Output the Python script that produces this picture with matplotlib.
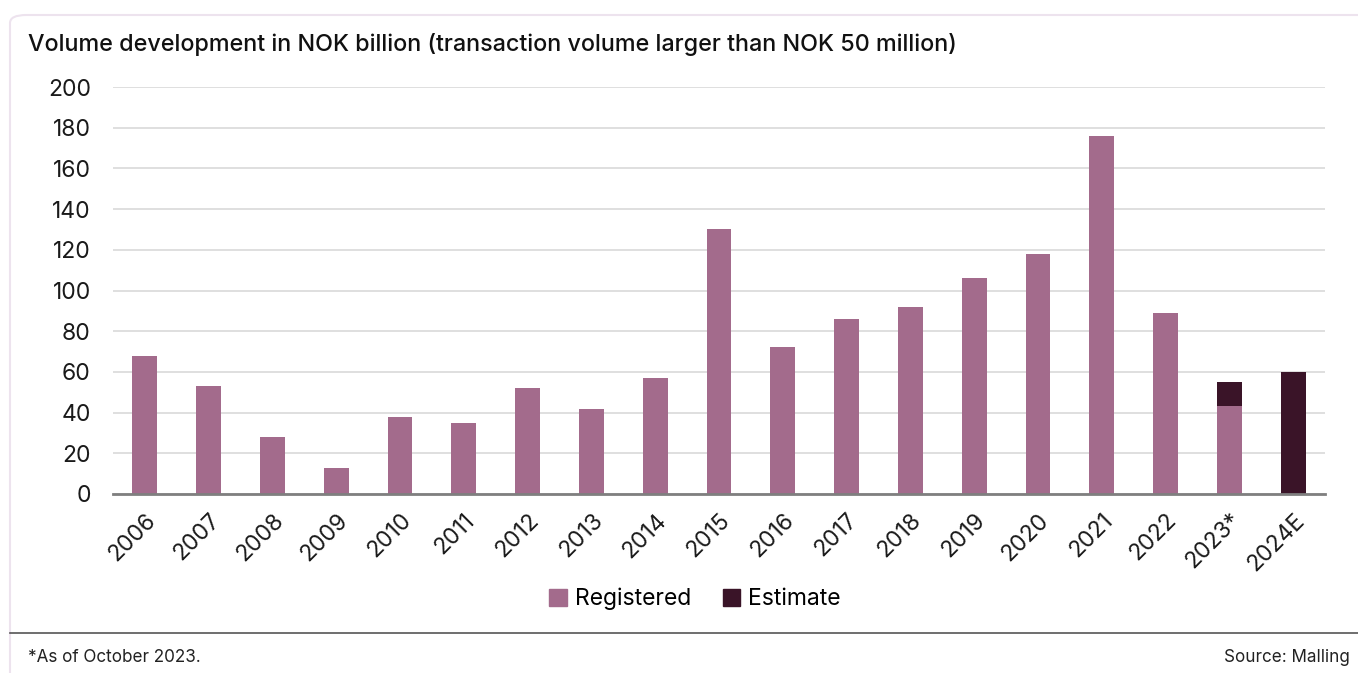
import matplotlib.pyplot as plt
from matplotlib.patches import FancyBboxPatch, Patch
from matplotlib.lines import Line2D
import numpy as np

years = ['2006', '2007', '2008', '2009', '2010', '2011', '2012', '2013', '2014', '2015',
         '2016', '2017', '2018', '2019', '2020', '2021', '2022', '2023*', '2024E']
registered = [68, 53, 28, 13, 38, 35, 52, 42, 57, 130, 72, 86, 92, 106, 118, 176, 89, 43, 0]
estimate = [0, 0, 0, 0, 0, 0, 0, 0, 0, 0, 0, 0, 0, 0, 0, 0, 0, 12, 60]

reg_color = '#A36B8C'
est_color = '#3A1428'

plt.rcParams['font.family'] = ['Inter', 'DejaVu Sans']

fig = plt.figure(figsize=(13.58, 6.73), dpi=100)

# card background
card = FancyBboxPatch((10 / 1358, -0.05), 1.2, (673 - 15) / 673 + 0.05,
                      boxstyle='round,pad=0,rounding_size=0.012',
                      transform=fig.transFigure, facecolor='white',
                      edgecolor='#EDE3EE', linewidth=1.5, zorder=-1)
fig.patches.append(card)

ax = fig.add_axes([113 / 1358, 1 - 494 / 673, (1325 - 113) / 1358, (494 - 87) / 673])
ax.set_zorder(1)
ax.patch.set_alpha(0)
x = np.arange(len(years))
ax.bar(x, registered, width=0.39, color=reg_color, zorder=3)
ax.bar(x, estimate, width=0.39, bottom=registered, color=est_color, zorder=3)

ax.set_xlim(-0.5, len(years) - 0.5)
ax.set_ylim(0, 200)
ax.set_yticks(range(0, 201, 20))
ax.grid(axis='y', color='#D9D9D9', linewidth=1.2, zorder=0)
for s in ['top', 'right', 'left']:
    ax.spines[s].set_visible(False)
ax.spines['bottom'].set_color('#7F7F7F')
ax.spines['bottom'].set_linewidth(2)
ax.spines['bottom'].set_zorder(4)
ax.tick_params(axis='both', length=0, labelsize=16.5, colors='#1a1a1a')
ax.tick_params(axis='y', pad=16)
ax.set_xticks(x)
ax.set_xticklabels(years, rotation=45, ha='right', rotation_mode='anchor')
ax.tick_params(axis='x', pad=11)

handles = [Patch(color=reg_color, label='Registered'), Patch(color=est_color, label='Estimate')]
fig.legend(handles=handles, loc='center', bbox_to_anchor=(695 / 1358, 1 - 599 / 673),
           ncol=2, frameon=False, fontsize=16.5, handlelength=0.75, handleheight=0.75,
           handletextpad=0.35, columnspacing=1.4)

fig.text(28 / 1358, 1 - 45 / 673,
         'Volume development in NOK billion (transaction volume larger than NOK 50 million)',
         fontsize=16.8, fontweight='medium', va='center', ha='left', color='#111111')

fig.add_artist(Line2D([10 / 1358, 1], [1 - 633 / 673, 1 - 633 / 673],
                     transform=fig.transFigure, color='#555555', linewidth=1.2))
fig.text(28 / 1358, 1 - 657 / 673, '*As of October 2023.', fontsize=12.3,
         va='center', ha='left', color='#222222')
fig.text(1350 / 1358, 1 - 657 / 673, 'Source: Malling', fontsize=12.3,
         va='center', ha='right', color='#222222')

fig.savefig('out.png', dpi=100)
